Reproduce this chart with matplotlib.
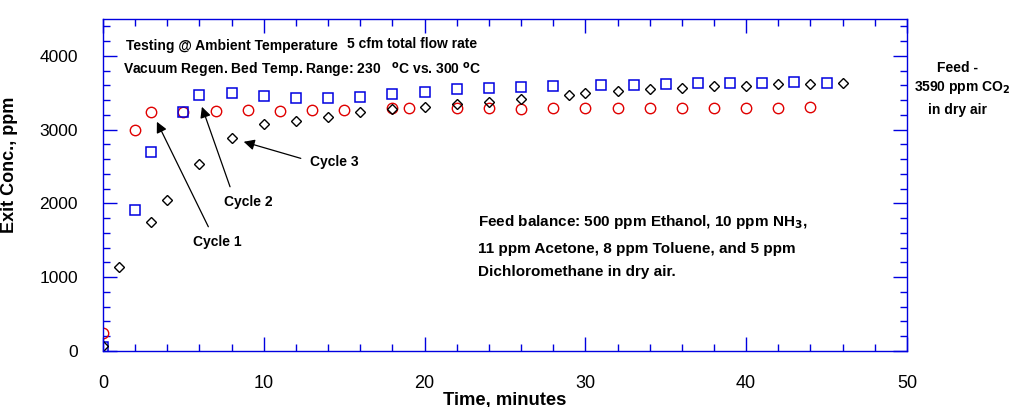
import matplotlib
matplotlib.use("Agg")
import matplotlib.pyplot as plt
from matplotlib.ticker import MultipleLocator

plt.rcParams['font.family'] = ['Liberation Sans', 'DejaVu Sans']

# Cycle 1 (red circles)
t_cycle1 = [0, 2, 3, 5, 7, 9, 11, 13, 15, 18, 19, 22, 24, 26, 28, 30, 32, 34, 36, 38, 40, 42, 44]
c_cycle1 = [240, 2995, 3234, 3243, 3252, 3266, 3252, 3266, 3266, 3289, 3289, 3289, 3289, 3280,
            3289, 3289, 3298, 3289, 3298, 3298, 3298, 3298, 3302]

# Cycle 2 (blue squares)
t_cycle2 = [0, 2, 3, 5, 6, 8, 10, 12, 14, 16, 18, 20, 22, 24, 26, 28, 31, 33, 35, 37, 39, 41, 43, 45]
c_cycle2 = [55, 1911, 2700, 3243, 3469, 3492, 3455, 3433, 3433, 3438, 3478, 3514, 3546, 3560,
            3573, 3591, 3604, 3604, 3618, 3627, 3627, 3636, 3645, 3636]

# Cycle 3 (black diamonds)
t_cycle3 = [0, 1, 3, 4, 6, 8, 10, 12, 14, 16, 18, 20, 22, 24, 26, 29, 30, 32, 34, 36, 38, 40, 42, 44, 46]
c_cycle3 = [70, 1142, 1752, 2046, 2538, 2890, 3072, 3117, 3175, 3234, 3279, 3310, 3347, 3378,
            3415, 3469, 3492, 3523, 3550, 3568, 3595, 3595, 3618, 3618, 3636]

x_ticks = [0, 10, 20, 30, 40, 50]
y_ticks = [0, 1000, 2000, 3000, 4000]

BLUE = '#0000e0'

fig = plt.figure(figsize=(10.11, 4.07), dpi=100)
ax = fig.add_axes([0.1019, 0.1376, 0.7952, 0.8157])

ax.plot(t_cycle1, c_cycle1, linestyle='none', marker='o', markersize=7.5,
        markerfacecolor='none', markeredgecolor='#e00000', markeredgewidth=1.0)
ax.plot(t_cycle2, c_cycle2, linestyle='none', marker='s', markersize=7.5,
        markerfacecolor='none', markeredgecolor=BLUE, markeredgewidth=1.1)
ax.plot(t_cycle3, c_cycle3, linestyle='none', marker='D', markersize=5.5,
        markerfacecolor='none', markeredgecolor='black', markeredgewidth=1.0)

ax.set_xlim(0, 50)
ax.set_ylim(0, 4500)
ax.set_xticks(x_ticks)
ax.set_yticks(y_ticks)
ax.xaxis.set_minor_locator(MultipleLocator(2))
ax.yaxis.set_minor_locator(MultipleLocator(200))

for sp in ax.spines.values():
    sp.set_color(BLUE)
    sp.set_linewidth(1.0)

ax.tick_params(which='both', direction='in', top=True, right=True, color=BLUE, width=1.0)
ax.tick_params(which='major', length=10)
ax.tick_params(which='minor', length=5)
ax.tick_params(axis='x', which='major', pad=17, labelsize=13)
ax.tick_params(axis='y', which='major', pad=18, labelsize=12.5)
for lab in ax.get_xticklabels():
    lab.set_family(['Liberation Sans Narrow', 'Liberation Sans'])

ax.set_xlabel('Time, minutes', fontsize=13.3, fontweight='bold', labelpad=0)
ax.set_ylabel('Exit Conc., ppm', fontsize=13, fontweight='bold')
ax.yaxis.set_label_coords(-0.106, 0.56)

# header notes
ax.text(0.028, 0.919, 'Testing @ Ambient Temperature', transform=ax.transAxes,
        fontsize=10, fontweight='bold', va='center')
ax.text(0.303, 0.925, '5 cfm total flow rate', transform=ax.transAxes,
        fontsize=10, fontweight='bold', va='center')
ax.text(0.025, 0.846, 'Vacuum Regen. Bed Temp. Range: 230   $^{\\mathbf{o}}$C vs. 300 $^{\\mathbf{o}}$C',
        transform=ax.transAxes, fontsize=10, fontweight='bold', va='center')

# feed composition box
ax.text(0.466, 0.389, 'Feed balance: 500 ppm Ethanol, 10 ppm NH$_\\mathbf{3}$,',
        transform=ax.transAxes, fontsize=11, fontweight='bold', va='center')
ax.text(0.466, 0.307, '11 ppm Acetone, 8 ppm Toluene, and 5 ppm',
        transform=ax.transAxes, fontsize=11, fontweight='bold', va='center')
ax.text(0.466, 0.238, 'Dichloromethane in dry air.',
        transform=ax.transAxes, fontsize=11, fontweight='bold', va='center')

# right side feed label
fig.text(0.947, 0.834, 'Feed -', fontsize=10, fontweight='bold', ha='center', va='center')
fig.text(0.952, 0.786, '3590 ppm CO$_\\mathbf{2}$', fontsize=10, fontweight='bold', ha='center', va='center')
fig.text(0.947, 0.730, 'in dry air', fontsize=10, fontweight='bold', ha='center', va='center')

arrow = dict(arrowstyle='-|>', color='black', lw=0.9, mutation_scale=16, shrinkA=0, shrinkB=0)
ax.annotate('', xy=(3.35, 3107), xytext=(6.55, 1684), arrowprops=arrow)
ax.text(7.1, 1480, 'Cycle 1', fontsize=10, fontweight='bold', ha='center', va='center')
ax.annotate('', xy=(6.15, 3310), xytext=(7.9, 2226), arrowprops=arrow)
ax.text(9.05, 2023, 'Cycle 2', fontsize=10, fontweight='bold', ha='center', va='center')
ax.annotate('', xy=(8.75, 2836), xytext=(12.3, 2611), arrowprops=arrow)
ax.text(14.4, 2565, 'Cycle 3', fontsize=10, fontweight='bold', ha='center', va='center')

fig.savefig('out.png', dpi=100)
